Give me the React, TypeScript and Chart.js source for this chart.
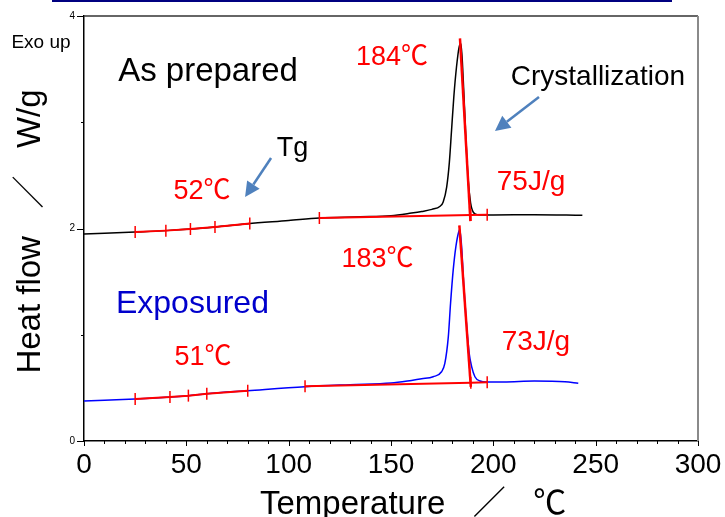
import React, { useEffect, useRef } from "react";
import { Chart, registerables } from "chart.js";

Chart.register(...registerables);

// ---- DSC curves (Temperature °C, Heat flow W/g) ----
const preparedT = [0, 10, 25, 40, 52, 64, 80, 100, 115, 135, 150, 160, 165, 170, 174, 175.5, 177.2, 178.5, 179.6, 180.7, 182, 183.3, 184.2, 185.3, 186.4, 187.7, 188.9, 189.8, 190.8, 192.5, 195, 200, 220, 243.5];
const preparedHF = [1.948, 1.955, 1.967, 1.98, 1.995, 2.015, 2.045, 2.075, 2.099, 2.11, 2.12, 2.145, 2.16, 2.18, 2.21, 2.25, 2.39, 2.62, 2.93, 3.24, 3.52, 3.71, 3.74, 3.4, 2.93, 2.46, 2.24, 2.17, 2.14, 2.13, 2.128, 2.128, 2.13, 2.125];

const exposedT = [0, 10, 25, 42, 51, 60, 80, 108, 130, 150, 160, 165, 170.6, 174.7, 176.3, 178, 179.1, 180.4, 181.7, 183.1, 183.6, 184.5, 185.6, 187, 188.2, 189.4, 191, 193.5, 196.7, 205, 220, 235, 241.5];
const exposedHF = [0.376, 0.384, 0.395, 0.413, 0.427, 0.445, 0.473, 0.511, 0.53, 0.545, 0.57, 0.585, 0.605, 0.652, 0.73, 0.98, 1.296, 1.61, 1.83, 1.97, 1.99, 1.83, 1.45, 1.076, 0.825, 0.7, 0.605, 0.565, 0.556, 0.556, 0.565, 0.558, 0.543];

// ---- analysis (red) lines ----
const prepBaseT = [25, 40, 52, 64, 81, 98, 115, 189, 197];
const prepBaseHF = [1.967, 1.98, 1.995, 2.015, 2.047, null, 2.099, 2.126, 2.13];
const prepTangentT = [183.7, 188.8];
const prepTangentHF = [3.79, 2.07];

const expBaseT = [25, 42, 51, 60, 80, 94, 108, 189, 197];
const expBaseHF = [0.395, 0.413, 0.427, 0.445, 0.473, null, 0.515, 0.549, 0.552];
const expTangentT = [183.4, 189];
const expTangentHF = [2.03, 0.51];

// ---- axes ----
const xMin = 0, xMax = 300, xStep = 50, xMinorStep = 10;
const yMin = 0, yMax = 4, yStep = 2, yMinorStep = 1;
const xTitle = "Temperature   ／   ℃";
const yTitle = "Heat flow   ／   W/g";

// ---- annotations (data coordinates) ----
const notes = [
  { text: "Exo up", t: -21.0, hf: 3.699, color: "#000000", size: 19 },
  { text: "As prepared", t: 60.6, hf: 3.384, color: "#000000", size: 33 },
  { text: "184℃", t: 150.5, hf: 3.539, color: "#ff0000", size: 27 },
  { text: "Crystallization", t: 251.1, hf: 3.351, color: "#000000", size: 28 },
  { text: "Tg", t: 101.9, hf: 2.682, color: "#000000", size: 27 },
  { text: "52℃", t: 57.7, hf: 2.273, color: "#ff0000", size: 27 },
  { text: "75J/g", t: 218.4, hf: 2.362, color: "#ff0000", size: 28 },
  { text: "183℃", t: 143.4, hf: 1.638, color: "#ff0000", size: 27 },
  { text: "Exposured", t: 53.0, hf: 1.202, color: "#0000cc", size: 32 },
  { text: "51℃", t: 58.1, hf: 0.715, color: "#ff0000", size: 27 },
  { text: "73J/g", t: 220.8, hf: 0.856, color: "#ff0000", size: 28 },
];

const arrows = [
  { t1: 91.4, hf1: 2.664, t2: 78.7, hf2: 2.296 },
  { t1: 222.3, hf1: 3.238, t2: 200.8, hf2: 2.918 },
];

const FONT = '"Liberation Sans", Arial, "Noto Sans CJK JP", sans-serif';

const zip = (xs: number[], ys: (number | null)[]) => xs.map((x, i) => ({ x, y: ys[i] }));

const decorPlugin = {
  id: "decor",
  afterDraw(chart: any) {
    const { ctx, chartArea: a, scales } = chart;
    const x = scales.x, y = scales.y;
    ctx.save();
    // frame top & right
    ctx.strokeStyle = "#333333";
    ctx.lineWidth = 1.5;
    ctx.beginPath();
    ctx.moveTo(a.left, a.top);
    ctx.lineTo(a.right, a.top);
    ctx.stroke();
    ctx.strokeStyle = "#8a8a8a";
    ctx.lineWidth = 2;
    ctx.beginPath();
    ctx.moveTo(a.right, a.top);
    ctx.lineTo(a.right, a.bottom);
    ctx.stroke();
    // ticks
    ctx.strokeStyle = "#000000";
    ctx.lineWidth = 1;
    for (let v = xMin; v <= xMax; v += xMinorStep) {
      const px = Math.round(x.getPixelForValue(v)) + 0.5;
      const len = v % xStep === 0 ? 5 : 3;
      ctx.beginPath();
      ctx.moveTo(px, a.bottom);
      ctx.lineTo(px, a.bottom + len);
      ctx.stroke();
    }
    for (let v = yMin; v <= yMax; v += yMinorStep) {
      const py = Math.round(y.getPixelForValue(v)) + 0.5;
      const len = v % yStep === 0 ? 7 : 3;
      ctx.beginPath();
      ctx.moveTo(a.left - len, py);
      ctx.lineTo(a.left, py);
      ctx.stroke();
    }
    // arrows
    ctx.strokeStyle = "#4f81bd";
    ctx.fillStyle = "#4f81bd";
    ctx.lineWidth = 2.5;
    for (const ar of arrows) {
      const x1 = x.getPixelForValue(ar.t1), y1 = y.getPixelForValue(ar.hf1);
      const x2 = x.getPixelForValue(ar.t2), y2 = y.getPixelForValue(ar.hf2);
      const ang = Math.atan2(y2 - y1, x2 - x1);
      const hl = 15, hw = 7.5;
      const bx = x2 - hl * Math.cos(ang), by = y2 - hl * Math.sin(ang);
      ctx.beginPath();
      ctx.moveTo(x1, y1);
      ctx.lineTo(bx, by);
      ctx.stroke();
      ctx.beginPath();
      ctx.moveTo(x2, y2);
      ctx.lineTo(bx + hw * Math.sin(ang), by - hw * Math.cos(ang));
      ctx.lineTo(bx - hw * Math.sin(ang), by + hw * Math.cos(ang));
      ctx.closePath();
      ctx.fill();
    }
    // annotation texts
    ctx.textAlign = "center";
    ctx.textBaseline = "alphabetic";
    for (const n of notes) {
      ctx.font = `${n.size}px ${FONT}`;
      ctx.fillStyle = n.color;
      ctx.fillText(n.text, x.getPixelForValue(n.t), y.getPixelForValue(n.hf));
    }
    // axis titles
    ctx.fillStyle = "#000000";
    ctx.font = `33px ${FONT}`;
    ctx.textAlign = "left";
    ctx.fillText(xTitle, a.left + 176, 514);
    ctx.save();
    ctx.translate(40, (a.top + a.bottom) / 2 + 3);
    ctx.rotate(-Math.PI / 2);
    ctx.font = `33px ${FONT}`;
    ctx.textAlign = "center";
    ctx.fillText(yTitle, 0, 0);
    ctx.restore();
    ctx.restore();
  },
};

export default function App() {
  const ref = useRef<HTMLCanvasElement | null>(null);
  useEffect(() => {
    if (!ref.current) return;
    const red = "#ff0000";
    const chart = new Chart(ref.current, {
      type: "line",
      data: {
        datasets: [
          {
            label: "As prepared baseline",
            data: zip(prepBaseT, prepBaseHF),
            borderColor: red,
            borderWidth: 2,
            pointStyle: "line",
            pointRotation: 90,
            pointRadius: 6,
            pointBorderWidth: 1.5,
            pointBorderColor: red,
            spanGaps: false,
            order: 0,
          },
          {
            label: "As prepared peak",
            data: zip(prepTangentT, prepTangentHF),
            borderColor: red,
            borderWidth: 2.5,
            pointRadius: 0,
            order: 0,
          },
          {
            label: "Exposured baseline",
            data: zip(expBaseT, expBaseHF),
            borderColor: red,
            borderWidth: 2,
            pointStyle: "line",
            pointRotation: 90,
            pointRadius: 6,
            pointBorderWidth: 1.5,
            pointBorderColor: red,
            spanGaps: false,
            order: 0,
          },
          {
            label: "Exposured peak",
            data: zip(expTangentT, expTangentHF),
            borderColor: red,
            borderWidth: 2.5,
            pointRadius: 0,
            order: 0,
          },
          {
            label: "As prepared",
            data: zip(preparedT, preparedHF),
            borderColor: "#000000",
            borderWidth: 1.5,
            pointRadius: 0,
            cubicInterpolationMode: "monotone",
            order: 1,
          },
          {
            label: "Exposured",
            data: zip(exposedT, exposedHF),
            borderColor: "#0000ff",
            borderWidth: 1.5,
            pointRadius: 0,
            cubicInterpolationMode: "monotone",
            order: 1,
          },
        ],
      },
      options: {
        responsive: false,
        animation: false,
        devicePixelRatio: 1,
        layout: { padding: { top: 16, right: 27, left: 0, bottom: 0 } },
        plugins: { legend: { display: false }, tooltip: { enabled: false } },
        scales: {
          x: {
            type: "linear",
            min: xMin,
            max: xMax,
            afterFit: (s: any) => { s.height = 76; s.paddingLeft = 0; s.paddingRight = 0; },
            ticks: {
              stepSize: xStep,
              color: "#000000",
              padding: 10,
              font: { family: FONT, size: 28, lineHeight: 1 },
            },
            grid: { display: false, drawTicks: false },
            border: { display: true, color: "#000000", width: 1.5 },
          },
          y: {
            type: "linear",
            min: yMin,
            max: yMax,
            afterFit: (s: any) => { s.width = 84; s.paddingTop = 0; s.paddingBottom = 0; },
            ticks: {
              stepSize: yStep,
              color: "#000000",
              padding: 9,
              font: { family: FONT, size: 10, lineHeight: 1 },
            },
            grid: { display: false, drawTicks: false },
            border: { display: true, color: "#000000", width: 1.5 },
          },
        },
      },
      plugins: [decorPlugin],
    });
    return () => chart.destroy();
  }, []);
  return (
    <div style={{ position: "fixed", left: 0, top: 0, width: 725, height: 517, background: "#ffffff" }}>
      <div style={{ position: "absolute", left: 52, top: 0, width: 620, height: 2, background: "#000080" }} />
      <canvas ref={ref} width={725} height={517} style={{ display: "block" }} />
    </div>
  );
}
